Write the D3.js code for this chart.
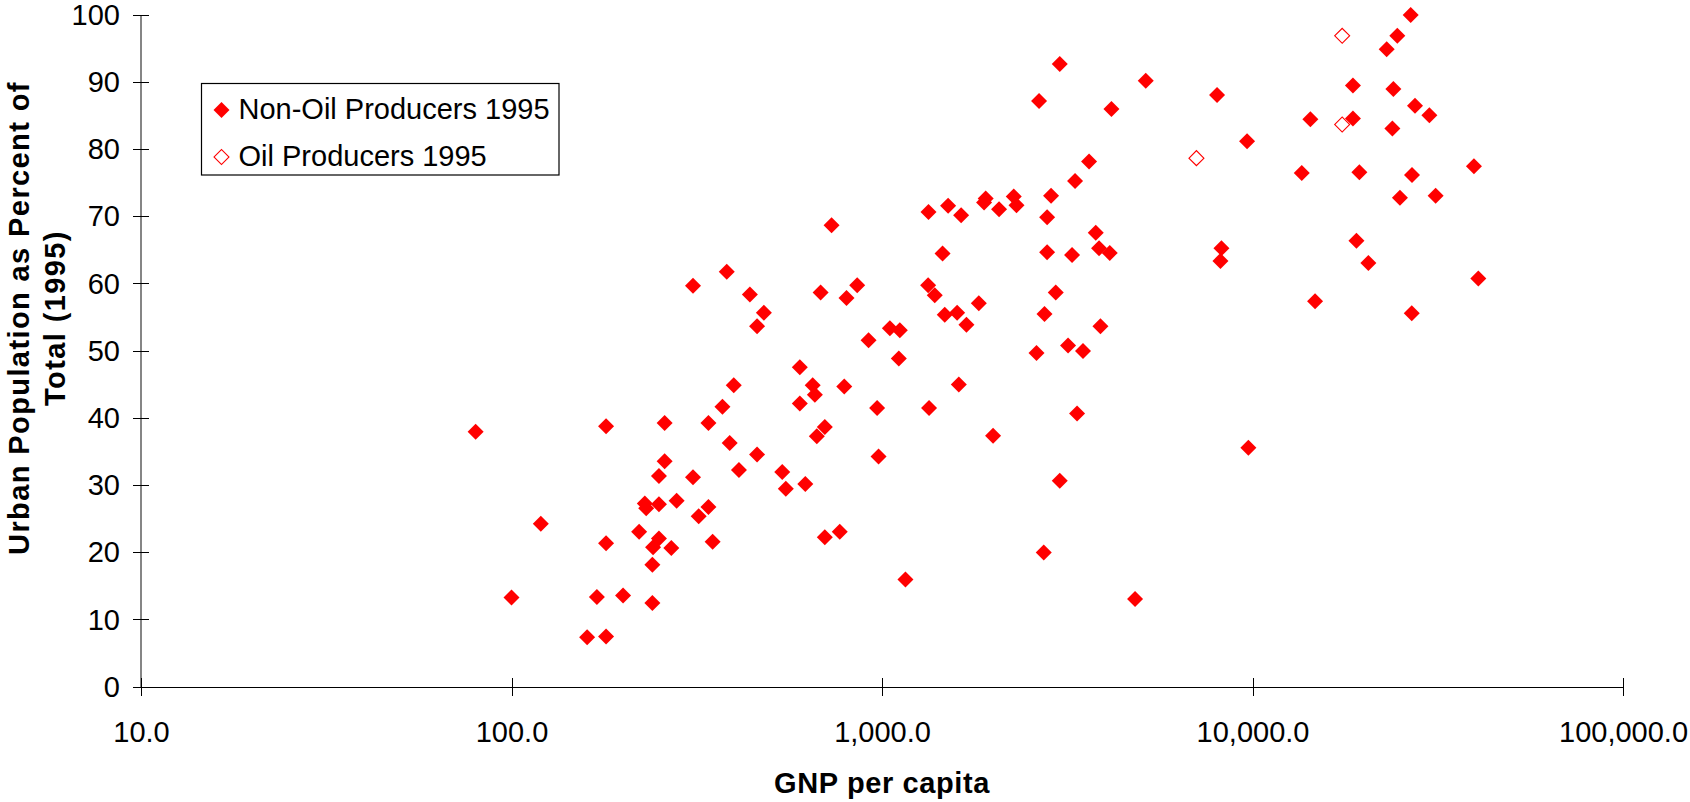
<!DOCTYPE html>
<html>
<head>
<meta charset="utf-8">
<script src="https://cdn.jsdelivr.net/npm/d3@7"></script>
<style>
  html, body { margin: 0; padding: 0; background: #fff; }
  svg { display: block; font-family: "Liberation Sans", Arial, sans-serif; }
</style>
</head>
<body>
<svg id="chart" width="1690" height="802"></svg>
<script>
// GNP per capita (US$) and urban population share (%), 1995
const nonOilGnp = [
  80, 100, 120, 160, 180, 170, 200, 240, 240, 180, 221, 250, 241, 270, 349,
  229, 231, 250, 279, 340, 320, 250, 309, 259, 180, 259, 340, 371, 398, 388,
  460, 411, 538, 550, 621, 701, 667, 600, 650, 659, 791, 600, 701, 769,
  309, 381, 440, 480, 460, 731, 683, 802, 857,
  970, 979, 920, 1050, 1117, 1110, 1157, 1340, 1612, 1994, 3361, 3018, 2733, 4819, 9748,
  1335, 1508, 1635, 1905, 1886, 2070, 2268, 2307, 1457, 1332, 1388, 1825, 1477, 1595, 1690,
  3018, 5150, 8022, 2654, 4162, 9666, 3622, 3320, 2860, 2790, 3775, 3853, 4118, 2790, 3258,
  8245, 8193, 2944, 2745, 3887, 2612, 3178, 3488,
  26730, 24600, 23020, 18670, 24000, 27450, 30020, 14330, 18670, 23850, 13580, 19430,
  26950, 39600, 25000, 31210, 19080, 20550, 40690, 14750, 26900
];
const nonOilUrban = [
  38.0, 13.3, 24.3, 7.4, 7.5, 13.4, 13.6, 12.5, 18.2, 21.4, 23.1, 22.1, 20.8, 20.7, 21.6,
  27.3, 26.6, 27.2, 27.7, 26.8, 25.4, 31.4, 31.2, 33.6, 38.8, 39.3, 39.3, 41.7, 44.9, 36.3,
  34.6, 32.3, 32.0, 29.5, 30.2, 38.7, 37.3, 42.2, 44.9, 43.5, 44.7, 47.6, 22.3, 23.1,
  59.7, 61.8, 58.4, 55.7, 53.7, 68.7, 58.7, 57.9, 59.8,
  41.5, 34.3, 51.6, 53.4, 53.1, 48.9, 16.0, 41.5, 45.0, 37.4, 40.7, 30.7, 20.0, 13.1, 35.6,
  70.7, 71.6, 70.2, 72.7, 72.1, 71.1, 73.0, 71.7, 64.5, 59.8, 58.3, 57.1, 55.4, 55.7, 53.9,
  92.7, 90.2, 88.1, 87.2, 86.0, 81.2, 78.2, 75.3, 73.1, 69.9, 67.6, 65.3, 64.6, 64.7, 64.3,
  65.3, 63.4, 58.7, 55.5, 53.7, 49.7, 50.8, 50.0,
  100.0, 96.9, 94.9, 89.5, 89.0, 86.5, 85.1, 84.5, 84.6, 83.1, 76.5, 76.6,
  76.2, 77.5, 72.8, 73.1, 66.4, 63.1, 60.8, 57.4, 55.6
];
const oilGnp = [7058, 17460, 17460];
const oilUrban = [78.7, 96.9, 83.7];

const seriesNames = ["Non-Oil Producers 1995", "Oil Producers 1995"];
const xTickValues = [10, 100, 1000, 10000, 100000];
const yTickValues = [0, 10, 20, 30, 40, 50, 60, 70, 80, 90, 100];
const xTitle = "GNP per capita";
const yTitleLines = ["Urban Population as Percent of", "Total (1995)"];

const svg = d3.select("#chart");
const plot = { left: 141, right: 1623, top: 15, bottom: 687 };
const red = "#ff0000";
const fontSize = 29;

const x = d3.scaleLog().domain([10, 100000]).range([plot.left, plot.right]);
const y = d3.scaleLinear().domain([0, 100]).range([plot.bottom, plot.top]);

const diamond = d3.symbol().type(d3.symbolSquare).size(128)();
const openDiamond = d3.symbol().type(d3.symbolSquare).size(112)();

// y axis: grey spine with crossing ticks
const yAxis = d3.axisLeft(y).tickValues(yTickValues).tickFormat(d3.format("d"))
  .tickSize(0).tickPadding(21);
const gy = svg.append("g").attr("transform", `translate(${plot.left},0)`).call(yAxis);
gy.select(".domain").remove();
gy.selectAll("text").attr("font-size", fontSize).attr("fill", "#000")
  .attr("font-family", "Liberation Sans, Arial, sans-serif");
svg.append("line")
  .attr("x1", plot.left).attr("x2", plot.left)
  .attr("y1", plot.top).attr("y2", plot.bottom)
  .attr("stroke", "#858585").attr("stroke-width", 2);
svg.append("g").selectAll("line").data(yTickValues).join("line")
  .attr("x1", plot.left - 8).attr("x2", plot.left + 8)
  .attr("y1", d => y(d)).attr("y2", d => y(d))
  .attr("stroke", "#000").attr("stroke-width", 1).attr("shape-rendering", "crispEdges");

// x axis: log scale, decade ticks crossing the line
const xAxis = d3.axisBottom(x).tickValues(xTickValues).tickFormat(d3.format(",.1f"))
  .tickSize(0).tickPadding(34);
const gx = svg.append("g").attr("transform", `translate(0,${plot.bottom})`).call(xAxis);
gx.select(".domain").remove();
gx.selectAll("text").attr("font-size", fontSize).attr("fill", "#000")
  .attr("font-family", "Liberation Sans, Arial, sans-serif");
svg.append("line")
  .attr("x1", plot.left - 8).attr("x2", plot.right)
  .attr("y1", plot.bottom + 0.5).attr("y2", plot.bottom + 0.5)
  .attr("stroke", "#000").attr("stroke-width", 1);
svg.append("g").selectAll("line").data(xTickValues).join("line")
  .attr("x1", d => Math.round(x(d)) + 0.5).attr("x2", d => Math.round(x(d)) + 0.5)
  .attr("y1", plot.bottom - 9).attr("y2", plot.bottom + 9)
  .attr("stroke", "#000").attr("stroke-width", 1);

// axis titles
svg.append("text")
  .attr("x", (plot.left + plot.right) / 2).attr("y", 793)
  .attr("text-anchor", "middle").attr("font-size", fontSize).attr("font-weight", "bold")
  .attr("letter-spacing", 0.6)
  .text(xTitle);
const yt = svg.append("text")
  .attr("transform", "translate(0,318) rotate(-90)")
  .attr("text-anchor", "middle").attr("font-size", fontSize).attr("font-weight", "bold")
  .attr("letter-spacing", 1.4);
yt.selectAll("tspan").data(yTitleLines).join("tspan")
  .attr("x", 0).attr("y", (d, i) => 29 + i * 36).text(d => d);

// points
const nonOil = nonOilGnp.map((g, i) => ({ g, u: nonOilUrban[i] }));
const oil = oilGnp.map((g, i) => ({ g, u: oilUrban[i] }));

svg.append("g").selectAll("path").data(nonOil).join("path")
  .attr("d", diamond)
  .attr("transform", d => `translate(${x(d.g)},${y(d.u)}) rotate(45)`)
  .attr("fill", red);
svg.append("g").selectAll("path").data(oil).join("path")
  .attr("d", openDiamond)
  .attr("transform", d => `translate(${x(d.g)},${y(d.u)}) rotate(45)`)
  .attr("fill", "#fff").attr("stroke", red).attr("stroke-width", 1.1);

// legend
const legend = svg.append("g");
legend.append("rect")
  .attr("x", 201.5).attr("y", 83.5).attr("width", 357.5).attr("height", 91.5)
  .attr("fill", "#fff").attr("stroke", "#000").attr("stroke-width", 1.2);
const rows = legend.selectAll("g.row").data(seriesNames).join("g")
  .attr("class", "row")
  .attr("transform", (d, i) => `translate(221.5,${110 + i * 47})`);
rows.append("path")
  .attr("d", (d, i) => i === 0 ? diamond : openDiamond)
  .attr("transform", "rotate(45)")
  .attr("fill", (d, i) => i === 0 ? red : "#fff")
  .attr("stroke", (d, i) => i === 0 ? "none" : red)
  .attr("stroke-width", 1.1);
rows.append("text")
  .attr("x", 17).attr("y", 8.5)
  .attr("font-size", fontSize).attr("fill", "#000")
  .text(d => d);
</script>
</body>
</html>
